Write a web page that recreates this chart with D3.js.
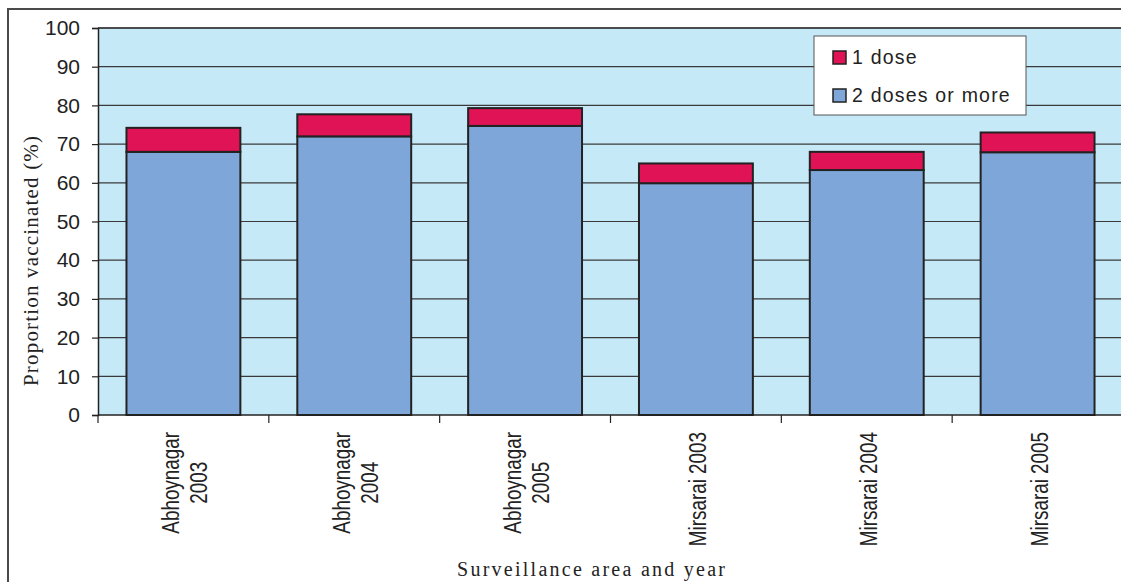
<!DOCTYPE html>
<html>
<head>
<meta charset="utf-8">
<script src="https://cdn.jsdelivr.net/npm/d3@7/dist/d3.min.js"></script>
<style>
  html, body { margin: 0; padding: 0; background: #fff; }
  #chart { width: 1121px; height: 582px; overflow: hidden; }
</style>
</head>
<body>
<div id="chart"></div>
<script>
// Data
const categories = ['Abhoynagar 2003', 'Abhoynagar 2004', 'Abhoynagar 2005', 'Mirsarai 2003', 'Mirsarai 2004', 'Mirsarai 2005'];
const tickLabels = [['Abhoynagar', '2003'], ['Abhoynagar', '2004'], ['Abhoynagar', '2005'], ['Mirsarai 2003'], ['Mirsarai 2004'], ['Mirsarai 2005']];
const twoOrMore = [68.0, 72.0, 74.7, 59.9, 63.3, 67.9];
const oneDose = [6.2, 5.7, 4.6, 5.1, 4.7, 5.1];
const seriesNames = ['1 dose', '2 doses or more'];
const yTicks = [0, 10, 20, 30, 40, 50, 60, 70, 80, 90, 100];

const W = 1121, H = 582;
const plot = { left: 98, top: 28, right: 1123, bottom: 415 };
const colors = { one: '#e01357', two: '#7ea6d8', bg: '#c6e9f8' };

const svg = d3.select('#chart')
    .append('svg')
    .attr('width', W)
    .attr('height', H);

// outer frame
svg.append('rect')
    .attr('x', 8).attr('y', 9)
    .attr('width', W + 20).attr('height', H + 20)
    .attr('fill', 'none')
    .attr('stroke', '#4a4a4a')
    .attr('stroke-width', 2);

// scales
const x = d3.scaleBand()
    .domain(categories)
    .range([plot.left, plot.right])
    .paddingInner(1 / 3)
    .paddingOuter(1 / 6);

const y = d3.scaleLinear()
    .domain([0, 100])
    .range([plot.bottom, plot.top]);

// plot background
svg.append('rect')
    .attr('x', plot.left).attr('y', plot.top)
    .attr('width', plot.right - plot.left)
    .attr('height', plot.bottom - plot.top)
    .attr('fill', colors.bg);

// grid lines
svg.append('g')
    .selectAll('line')
    .data(yTicks.filter(d => d > 0))
    .enter()
    .append('line')
    .attr('x1', plot.left).attr('x2', plot.right)
    .attr('y1', d => y(d)).attr('y2', d => y(d))
    .attr('stroke', '#3a3a3a')
    .attr('stroke-width', 1.2);

// y axis
const yAxis = svg.append('g')
    .attr('transform', `translate(${plot.left},0)`)
    .call(d3.axisLeft(y).tickValues(yTicks).tickSize(6).tickPadding(12));
yAxis.select('.domain').attr('stroke', '#222').attr('stroke-width', 1.5);
yAxis.selectAll('.tick line').attr('stroke', '#222').attr('stroke-width', 1.2);
yAxis.selectAll('.tick text')
    .attr('fill', '#222')
    .style('font-family', '"Liberation Sans", Arial, sans-serif')
    .style('font-size', '21px');

// stacked bars
const stackData = categories.map((c, i) => ({ cat: c, two: twoOrMore[i], one: oneDose[i] }));

svg.append('g')
    .selectAll('rect')
    .data(stackData)
    .enter()
    .append('rect')
    .attr('x', d => x(d.cat))
    .attr('width', x.bandwidth())
    .attr('y', d => y(d.two))
    .attr('height', d => y(0) - y(d.two))
    .attr('fill', colors.two)
    .attr('stroke', '#222')
    .attr('stroke-width', 2);

svg.append('g')
    .selectAll('rect')
    .data(stackData)
    .enter()
    .append('rect')
    .attr('x', d => x(d.cat))
    .attr('width', x.bandwidth())
    .attr('y', d => y(d.two + d.one))
    .attr('height', d => y(d.two) - y(d.two + d.one))
    .attr('fill', colors.one)
    .attr('stroke', '#222')
    .attr('stroke-width', 2);

// x axis line and boundary ticks
svg.append('line')
    .attr('x1', plot.left).attr('x2', plot.right)
    .attr('y1', plot.bottom).attr('y2', plot.bottom)
    .attr('stroke', '#222').attr('stroke-width', 1.5);

const bounds = categories.map(c => x(c) - x.step() * x.paddingInner() / 2);
svg.append('g')
    .selectAll('line')
    .data(bounds)
    .enter()
    .append('line')
    .attr('x1', d => d).attr('x2', d => d)
    .attr('y1', plot.bottom).attr('y2', plot.bottom + 8)
    .attr('stroke', '#222').attr('stroke-width', 1.2);

// plot top border
svg.append('line')
    .attr('x1', plot.left).attr('x2', plot.right)
    .attr('y1', plot.top).attr('y2', plot.top)
    .attr('stroke', '#333').attr('stroke-width', 1.5);

// rotated category labels
const labelG = svg.append('g')
    .selectAll('text')
    .data(categories)
    .enter()
    .append('text')
    .attr('transform', d => `translate(${x(d) + x.bandwidth() / 2},432) rotate(-90) scale(0.82,1)`)
    .attr('text-anchor', 'end')
    .attr('fill', '#222')
    .style('font-family', '"Liberation Sans", Arial, sans-serif')
    .style('font-size', '23px');

labelG.each(function(d, i) {
    const lines = tickLabels[i];
    const n = lines.length;
    d3.select(this).selectAll('tspan')
        .data(lines)
        .enter()
        .append('tspan')
        .attr('x', 0)
        .attr('y', (l, j) => 10 + (j - (n - 1) / 2) * 28)
        .attr('text-anchor', 'middle')
        .text(l => l);
});
// center the lines of a multi-line label against each other
labelG.each(function() {
    const t = d3.select(this);
    const widths = [];
    t.selectAll('tspan').each(function() { widths.push(this.getComputedTextLength()); });
    const maxW = d3.max(widths);
    t.selectAll('tspan').attr('x', -maxW / 2);
});

// axis titles
svg.append('text')
    .attr('transform', `translate(38,261) rotate(-90)`)
    .attr('text-anchor', 'middle')
    .attr('fill', '#222')
    .attr('textLength', 250)
    .attr('lengthAdjust', 'spacing')
    .style('font-family', '"Liberation Serif", "Times New Roman", serif')
    .style('font-size', '21px')
    .text('Proportion vaccinated (%)');

svg.append('text')
    .attr('x', 591)
    .attr('y', 576)
    .attr('text-anchor', 'middle')
    .attr('fill', '#222')
    .attr('textLength', 268)
    .attr('lengthAdjust', 'spacing')
    .style('font-family', '"Liberation Serif", "Times New Roman", serif')
    .style('font-size', '20px')
    .text('Surveillance area and year');

// legend
const legend = svg.append('g');
legend.append('rect')
    .attr('x', 814).attr('y', 36)
    .attr('width', 212).attr('height', 79)
    .attr('fill', '#fff')
    .attr('stroke', '#555')
    .attr('stroke-width', 1);

const legendColors = [colors.one, colors.two];
const item = legend.selectAll('g.item')
    .data(seriesNames)
    .enter()
    .append('g')
    .attr('class', 'item')
    .attr('transform', (d, i) => `translate(0,${i * 38})`);

item.append('rect')
    .attr('x', 833).attr('y', 51)
    .attr('width', 13).attr('height', 13)
    .attr('fill', (d, i) => legendColors[i])
    .attr('stroke', '#222')
    .attr('stroke-width', 1.5);

item.append('text')
    .attr('x', 852).attr('y', 64)
    .attr('fill', '#222')
    .style('font-family', '"Liberation Sans", Arial, sans-serif')
    .style('font-size', '19.5px')
    .style('letter-spacing', '1.2px')
    .text(d => d);
</script>
</body>
</html>
